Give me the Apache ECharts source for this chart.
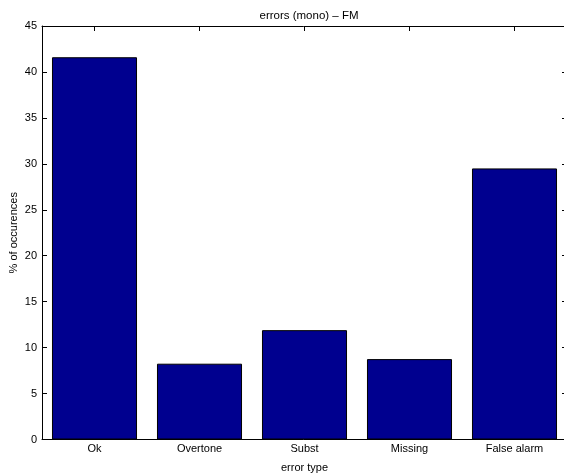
<!DOCTYPE html>
<html>
<head>
<meta charset="utf-8">
<script src="https://cdn.jsdelivr.net/npm/echarts@6/dist/echarts.min.js"></script>
<style>html,body{margin:0;padding:0;background:#fff}#c{width:564px;height:473px}</style>
</head>
<body>
<div id="c"></div>
<script>
const categories = ['Ok', 'Overtone', 'Subst', 'Missing', 'False alarm'];
const values = [41.6, 8.25, 11.9, 8.75, 29.5];
const yTicks = [0, 5, 10, 15, 20, 25, 30, 35, 40, 45];

const chart = echarts.init(document.getElementById('c'), null, {renderer: 'canvas'});
const font = 'Liberation Sans, Arial, sans-serif';
chart.setOption({
  animation: false,
  backgroundColor: '#fff',
  title: {
    text: 'errors (mono) \u2013 FM',
    left: 304, top: 5, textAlign: 'center',
    textStyle: {fontFamily: font, fontSize: 11.5, fontWeight: 'normal', color: '#000'}
  },
  grid: {left: 42, top: 26, width: 525, bottom: 33.5, containLabel: false, outerBoundsMode: 'none'},
  xAxis: [{
    type: 'category', data: categories, position: 'bottom',
    name: 'error type', nameLocation: 'middle', nameGap: 23, nameMoveOverlap: false,
    nameTextStyle: {fontFamily: font, fontSize: 11, color: '#000'},
    axisLine: {onZero: false, lineStyle: {color: '#000', width: 1}},
    axisTick: {inside: true, alignWithLabel: true, length: 5, lineStyle: {color: '#000'}},
    axisLabel: {fontFamily: font, fontSize: 11, color: '#000', margin: 4},
    splitLine: {show: false}
  }, {
    type: 'category', data: categories, position: 'top',
    axisLine: {onZero: false, lineStyle: {color: '#000', width: 1}},
    axisTick: {show: true, inside: true, alignWithLabel: true, length: 5, lineStyle: {color: '#000'}},
    axisLabel: {show: false}
  }],
  yAxis: [{
    type: 'value', min: yTicks[0], max: yTicks[yTicks.length - 1], interval: 5,
    name: '% of occurences', nameLocation: 'middle', nameGap: 23, nameRotate: 90, nameMoveOverlap: false,
    nameTextStyle: {fontFamily: font, fontSize: 11, color: '#000'},
    axisLine: {show: true, onZero: false, lineStyle: {color: '#000', width: 1}},
    axisTick: {show: true, inside: true, length: 5, lineStyle: {color: '#000'}},
    axisLabel: {fontFamily: font, fontSize: 11, color: '#000', margin: 5},
    splitLine: {show: false}
  }, {
    type: 'value', min: yTicks[0], max: yTicks[yTicks.length - 1], interval: 5, position: 'right',
    axisLine: {show: true, onZero: false, lineStyle: {color: '#000', width: 1}},
    axisTick: {show: true, inside: true, length: 5, lineStyle: {color: '#000'}},
    axisLabel: {show: false},
    splitLine: {show: false}
  }],
  series: [{
    type: 'bar', data: values, xAxisIndex: 0, yAxisIndex: 0,
    barWidth: '81%',
    itemStyle: {color: '#00008F', borderColor: '#000', borderWidth: 1}
  }]
});
</script>
</body>
</html>
